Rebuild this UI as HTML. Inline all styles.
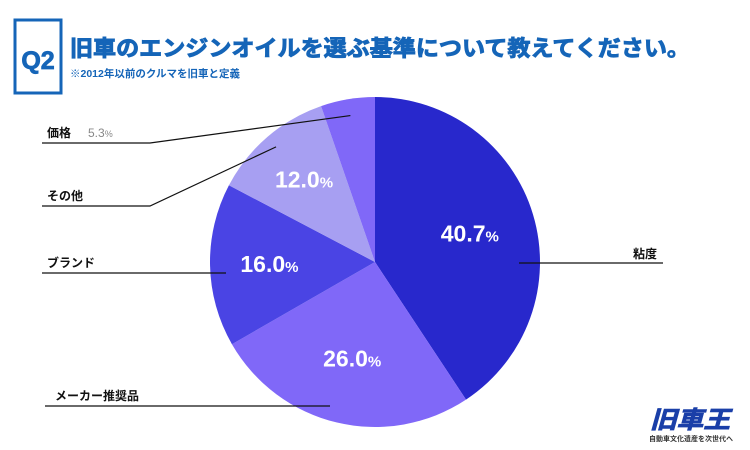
<!DOCTYPE html>
<html><head><meta charset="utf-8">
<style>
body{margin:0;background:#fff;}
#wrap{position:relative;width:750px;height:450px;overflow:hidden;background:#fff;font-family:"Liberation Sans","Noto Sans CJK JP",sans-serif;}
</style></head>
<body>
<div id="wrap">
<svg id="svg" width="750" height="450" xmlns="http://www.w3.org/2000/svg">
  <rect x="15" y="20" width="46" height="73" fill="none" stroke="#1565b8" stroke-width="3"/>
  <text x="38" y="69" text-anchor="middle" font-size="25" font-weight="bold" fill="#1565b8" stroke="#1565b8" stroke-width="0.8" font-family="Liberation Sans, sans-serif">Q2</text>
  <text x="70" y="56" font-size="22" font-weight="bold" fill="#1565b8" stroke="#1565b8" stroke-width="0.9" font-family="Liberation Sans, Noto Sans CJK JP, sans-serif" textLength="620" lengthAdjust="spacingAndGlyphs">旧車のエンジンオイルを選ぶ基準について教えてください。</text>
  <text x="70" y="77" font-size="10.5" font-weight="bold" fill="#1565b8" font-family="Liberation Sans, Noto Sans CJK JP, sans-serif">※2012年以前のクルマを旧車と定義</text>
  <g id="slices"></g>
  <g id="leaders"></g>
  <g>
    <text x="690" y="428" text-anchor="middle" font-size="24" font-weight="bold" font-style="italic" fill="#1a3fa8" stroke="#1a3fa8" stroke-width="0.8" font-family="Liberation Sans, Noto Sans CJK JP, sans-serif" textLength="80" lengthAdjust="spacingAndGlyphs">旧車王</text>
    <text x="691" y="441" text-anchor="middle" font-size="7" font-weight="bold" fill="#333" font-family="Liberation Sans, Noto Sans CJK JP, sans-serif" textLength="84" lengthAdjust="spacingAndGlyphs">自動車文化遺産を次世代へ</text>
  </g>
</svg>
</div>
<script>
const categories = ['粘度','メーカー推奨品','ブランド','その他','価格'];
const values = [40.7, 26.0, 16.0, 12.0, 5.3];
const valueLabels = ['40.7','26.0','16.0','12.0','5.3'];
const colors = ['#2828cc','#8068f8','#4a44e4','#a79ff2','#8068f8'];

const NS='http://www.w3.org/2000/svg';
const cx=375, cy=262, r=165;
const total=values.reduce((a,b)=>a+b,0);
function pt(frac, rad){const a=frac*2*Math.PI; return [cx+rad*Math.sin(a), cy-rad*Math.cos(a)];}
const gS=document.getElementById('slices');
const gL=document.getElementById('leaders');
let acc=0;
const labelLayout=[
  {lx:633, ly:258, lineY:263, x0:519, x1:663, anchorRad:0.85, labRad:0.6, side:'right'},
  {lx:55, ly:400, lineY:406, x0:45, x1:330, anchorRad:0.92, labRad:0.6, side:'left'},
  {lx:47, ly:267, lineY:273, x0:42, x1:226, anchorRad:0.95, labRad:0.64, side:'left'},
  {lx:47, ly:200, lineY:206, x0:42, x1:150, anchorRad:0.92, labRad:0.66, side:'left'},
  {lx:47, ly:137, lineY:143, x0:42, x1:150, anchorRad:0.9, labRad:0.6, side:'left'}
];
values.forEach((v,i)=>{
  const f0=acc/total, f1=(acc+v)/total; acc+=v;
  const [x0,y0]=pt(f0,r),[x1,y1]=pt(f1,r);
  const large=(f1-f0)>0.5?1:0;
  const p=document.createElementNS(NS,'path');
  p.setAttribute('d',`M${cx},${cy} L${x0},${y0} A${r},${r} 0 ${large} 1 ${x1},${y1} Z`);
  p.setAttribute('fill',colors[i]);
  
  
  gS.appendChild(p);
  const mid=(f0+f1)/2;
  const L=labelLayout[i];
  if(v>=10){
    const [tx,ty]=pt(mid, r*L.labRad);
    const t=document.createElementNS(NS,'text');
    t.setAttribute('x',tx); t.setAttribute('y',ty+8);
    t.setAttribute('text-anchor','middle');
    t.setAttribute('fill','#fff'); t.setAttribute('font-weight','bold');
    t.setAttribute('font-size','23');
    t.setAttribute('font-family','Liberation Sans, sans-serif');
    
    
    t.innerHTML=valueLabels[i]+'<tspan font-size="15">%</tspan>';
    gS.appendChild(t);
  }
  const [ax,ay]=pt(mid, r*L.anchorRad);
  const pl=document.createElementNS(NS,'polyline');
  let pts;
  if(L.side==='right') pts=`${L.x0},${L.lineY} ${L.x1},${L.lineY}`;
  else if(Math.abs(ay-L.lineY)<10) pts=`${L.x0},${L.lineY} ${L.x1},${L.lineY}`;
  else pts=`${L.x0},${L.lineY} ${L.x1},${L.lineY} ${ax},${ay}`;
  pl.setAttribute('points',pts);
  pl.setAttribute('fill','none'); pl.setAttribute('stroke','#111'); pl.setAttribute('stroke-width','1.2');
  
  
  gL.appendChild(pl);
  const ct=document.createElementNS(NS,'text');
  ct.setAttribute('x',L.lx); ct.setAttribute('y',L.ly);
  ct.setAttribute('font-size','12'); ct.setAttribute('font-weight','bold'); ct.setAttribute('fill','#111');
  ct.setAttribute('font-family','Liberation Sans, Noto Sans CJK JP, sans-serif');
  
  
  ct.textContent=categories[i];
  gL.appendChild(ct);
  if(v<10){
    const vt=document.createElementNS(NS,'text');
    vt.setAttribute('x',L.lx+41); vt.setAttribute('y',L.ly);
    vt.setAttribute('font-size','12'); vt.setAttribute('fill','#888');
    vt.setAttribute('font-family','Liberation Sans, sans-serif');
    
    
    vt.innerHTML=valueLabels[i]+'<tspan font-size="9">%</tspan>';
    gL.appendChild(vt);
  }
});
</script>
</body></html>
